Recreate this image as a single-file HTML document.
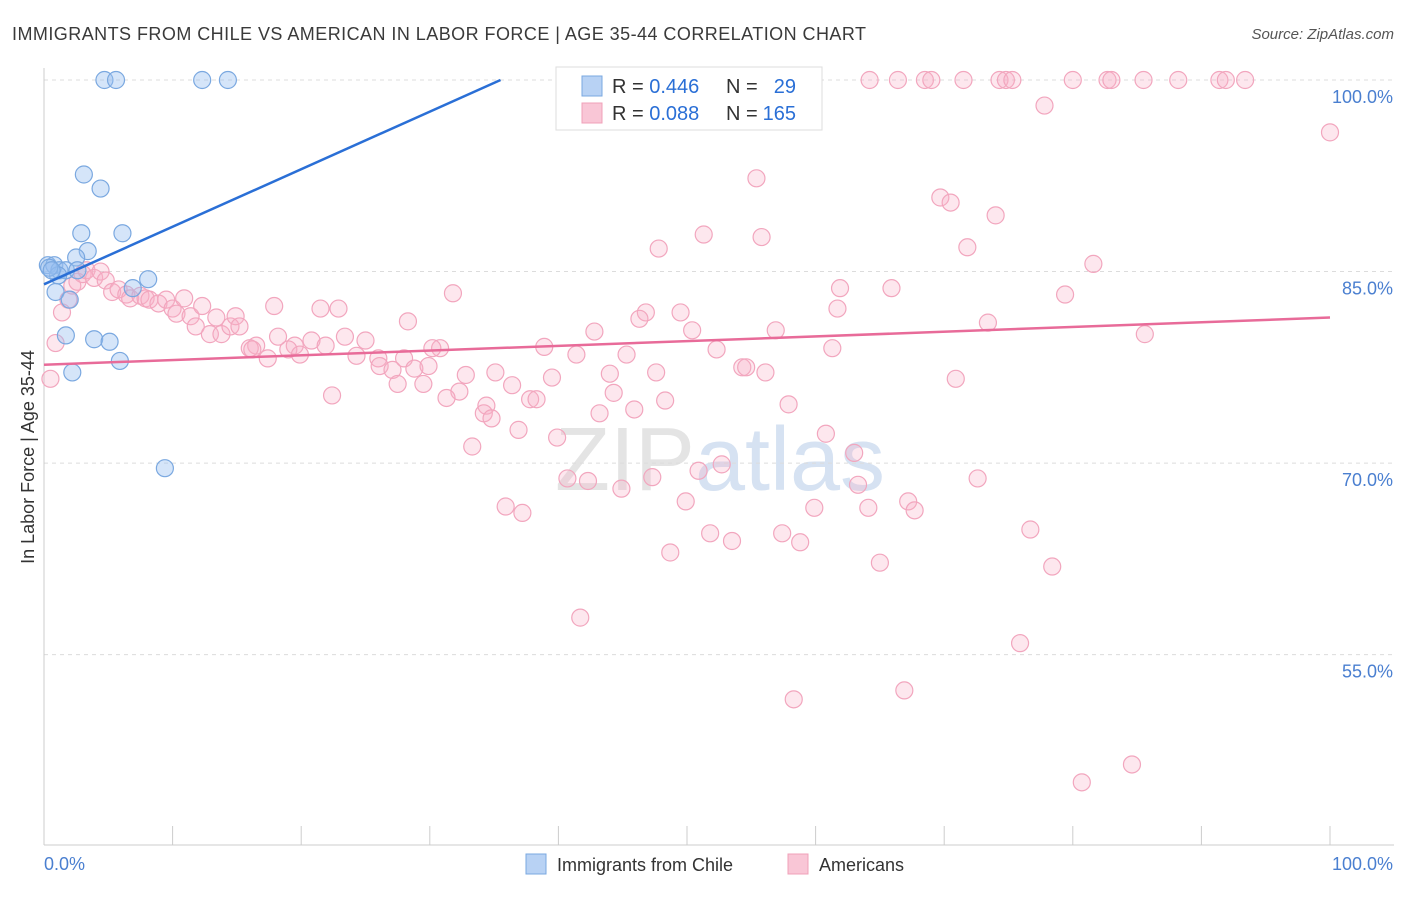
<!DOCTYPE html>
<html><head><meta charset="utf-8"><style>
body{margin:0;background:#fff;font-family:"Liberation Sans",sans-serif;}
svg text{font-family:"Liberation Sans",sans-serif;}
</style></head><body>
<svg id="chart" width="1406" height="892" xmlns="http://www.w3.org/2000/svg">
<text x="12" y="40" font-size="18" fill="#3a3a3a" textLength="854" lengthAdjust="spacing">IMMIGRANTS FROM CHILE VS AMERICAN IN LABOR FORCE | AGE 35-44 CORRELATION CHART</text>
<text x="1394" y="39" font-size="15" fill="#555" text-anchor="end" font-style="italic">Source: ZipAtlas.com</text>
<text x="720" y="490" font-size="90" fill="#e4e4e4" text-anchor="middle" font-family="Liberation Serif">ZIP<tspan fill="#d6e2f2" font-family="Liberation Sans">atlas</tspan></text>
<g id="grid"></g>
<g id="axes"></g>
<g id="pts"></g>
<g id="lines"></g>
<text transform="translate(34,457) rotate(-90)" font-size="18" fill="#333" text-anchor="middle">In Labor Force | Age 35-44</text>
<text x="44" y="870" font-size="18" fill="#4a7fd0">0.0%</text>
<text x="1393" y="870" font-size="18" fill="#4a7fd0" text-anchor="end">100.0%</text>
<g>
<rect x="556" y="67" width="266" height="63" fill="#fff" stroke="#ddd"/>
<rect x="582" y="76" width="20" height="20" fill="#b8d2f4" stroke="#7aa8e0"/>
<rect x="582" y="103" width="20" height="20" fill="#f9c6d6" stroke="#f0a0b8"/>
<text x="612" y="93" font-size="20" fill="#333">R = <tspan fill="#2a6fd6">0.446</tspan></text>
<text x="726" y="93" font-size="20" fill="#333">N =</text>
<text x="796" y="93" font-size="20" fill="#2a6fd6" text-anchor="end">29</text>
<text x="612" y="120" font-size="20" fill="#333">R = <tspan fill="#2a6fd6">0.088</tspan></text>
<text x="726" y="120" font-size="20" fill="#333">N =</text>
<text x="796" y="120" font-size="20" fill="#2a6fd6" text-anchor="end">165</text>
</g>
<g>
<rect x="526" y="854" width="20" height="20" fill="#b8d2f4" stroke="#7aa8e0"/>
<text x="557" y="871" font-size="18" fill="#333">Immigrants from Chile</text>
<rect x="788" y="854" width="20" height="20" fill="#f9c6d6" stroke="#f0a0b8"/>
<text x="819" y="871" font-size="18" fill="#333">Americans</text>
</g>
</svg>
<script>
const yTicks=[100,85,70,55];
const yTickLabels=["100.0%","85.0%","70.0%","55.0%"];
const xTicks=[0,10,20,30,40,50,60,70,80,90,100];
const blueX=[4.7,5.6,12.3,14.3,3.1,4.4,2.9,6.1,3.4,2.5,0.3,0.8,1.2,1.7,2.6,1.1,8.1,6.9,0.9,2.0,1.7,3.9,5.1,5.9,2.2,9.4,0.4,0.6];
const blueY=[100,100,100,100,92.6,91.5,88.0,88.0,86.6,86.1,85.5,85.5,85.1,85.1,85.1,84.7,84.4,83.7,83.4,82.8,80.0,79.7,79.5,78.0,77.1,69.6,85.3,85.1];
const pinkX=[64.2,66.4,68.5,69.0,71.5,74.3,74.8,75.3,80.0,82.7,83.0,85.5,88.2,91.4,91.9,93.4,77.8,100,55.4,69.7,70.5,74.0,51.3,55.8,47.8,71.8,81.6,61.9,65.9,79.4,61.7,85.6,73.4,56.9,50.4,42.8,31.8,28.3,21.5,22.9,17.9,49.5,46.8,46.3,61.3,52.3,45.3,41.4,38.9,30.8,30.2,25.0,23.4,20.8,21.9,19.5,19.0,19.9,18.2,16.5,17.4,16.0,24.3,26.0,26.1,27.1,28.0,28.8,29.9,27.5,29.5,32.8,35.1,36.4,39.5,44.0,47.6,54.3,54.6,56.1,70.9,22.4,32.3,31.3,34.4,34.2,34.8,37.8,38.3,44.3,48.3,43.2,45.9,57.9,36.9,39.9,33.3,60.8,63.0,52.7,50.9,40.7,42.3,44.9,47.3,72.6,63.3,49.9,67.2,67.7,35.9,37.2,59.9,64.1,51.8,53.5,57.4,58.8,76.7,48.7,65.0,78.4,41.7,75.9,66.9,58.3,84.6,80.7,0.5,0.9,1.4,1.9,2.2,2.6,3.0,3.3,3.9,4.4,4.8,5.3,5.8,6.4,6.7,7.5,7.9,8.2,8.9,9.5,10.0,10.3,10.9,11.4,11.8,12.3,12.9,13.4,13.8,14.5,14.9,15.2,16.2];
const pinkY=[100,100,100,100,100,100,100,100,100,100,100,100,100,100,100,100,98.0,95.9,92.3,90.8,90.4,89.4,87.9,87.7,86.8,86.9,85.6,83.7,83.7,83.2,82.1,80.1,81.0,80.4,80.4,80.3,83.3,81.1,82.1,82.1,82.3,81.8,81.8,81.3,79.0,78.9,78.5,78.5,79.1,79.0,79.0,79.6,79.9,79.6,79.2,79.2,78.9,78.5,79.9,79.2,78.2,79.0,78.4,78.2,77.6,77.3,78.2,77.4,77.6,76.2,76.2,76.9,77.1,76.1,76.7,77.0,77.1,77.5,77.5,77.1,76.6,75.3,75.6,75.1,74.5,73.9,73.5,75.0,75.0,75.5,74.9,73.9,74.2,74.6,72.6,72.0,71.3,72.3,70.8,69.9,69.4,68.8,68.6,68.0,68.9,68.8,68.3,67.0,67.0,66.3,66.6,66.1,66.5,66.5,64.5,63.9,64.5,63.8,64.8,63.0,62.2,61.9,57.9,55.9,52.2,51.5,46.4,45.0,76.6,79.4,81.8,82.8,83.9,84.2,84.8,85.1,84.5,85.0,84.3,83.4,83.6,83.2,82.9,83.1,82.9,82.8,82.5,82.8,82.1,81.7,82.9,81.5,80.7,82.3,80.1,81.4,80.1,80.7,81.5,80.7,78.9];
const blueLine=[[0,84.0],[35.5,100]];
const pinkLine=[[0,77.7],[100,81.4]];
const NS="http://www.w3.org/2000/svg";
const sx=v=>44+v*12.86;
const sy=v=>80+(100-v)*12.77;
function mk(tag,attrs,parent){const e=document.createElementNS(NS,tag);for(const k in attrs)e.setAttribute(k,attrs[k]);parent.appendChild(e);return e;}
const grid=document.getElementById('grid'),axes=document.getElementById('axes'),pts=document.getElementById('pts'),lines=document.getElementById('lines');
yTicks.forEach((t,i)=>{
  const l=mk('line',{x1:44,x2:1394,y1:sy(t),y2:sy(t),stroke:'#dcdcdc','stroke-dasharray':'4,4'},grid);
  
  
  const tx=mk('text',{x:1393,y:sy(t)+23,'font-size':18,fill:'#4a7fd0','text-anchor':'end'},grid);
  tx.textContent=yTickLabels[i];
  
  
});
const ax=mk('line',{x1:44,x2:44,y1:68,y2:845,stroke:'#ccc'},axes);


const bx=mk('line',{x1:44,x2:1394,y1:845,y2:845,stroke:'#ccc'},axes);


xTicks.forEach(t=>{
  const l=mk('line',{x1:sx(t),x2:sx(t),y1:826,y2:845,stroke:'#ccc'},axes);
  
  
});
pinkX.forEach((x,i)=>{
  const c=mk('circle',{cx:sx(x),cy:sy(pinkY[i]),r:8.5,fill:'rgba(248,175,198,0.3)',stroke:'#f2a6be','stroke-width':1.2},pts);
  
  
});
blueX.forEach((x,i)=>{
  const c=mk('circle',{cx:sx(x),cy:sy(blueY[i]),r:8.5,fill:'rgba(150,190,240,0.4)',stroke:'#7aa8e0','stroke-width':1.2},pts);
  
  
});
const bl=mk('line',{x1:sx(blueLine[0][0]),y1:sy(blueLine[0][1]),x2:sx(blueLine[1][0]),y2:sy(blueLine[1][1]),stroke:'#2a6fd6','stroke-width':2.5},lines);


const pl=mk('line',{x1:sx(pinkLine[0][0]),y1:sy(pinkLine[0][1]),x2:sx(pinkLine[1][0]),y2:sy(pinkLine[1][1]),stroke:'#e86b99','stroke-width':2.5},lines);


</script>
</body></html>
